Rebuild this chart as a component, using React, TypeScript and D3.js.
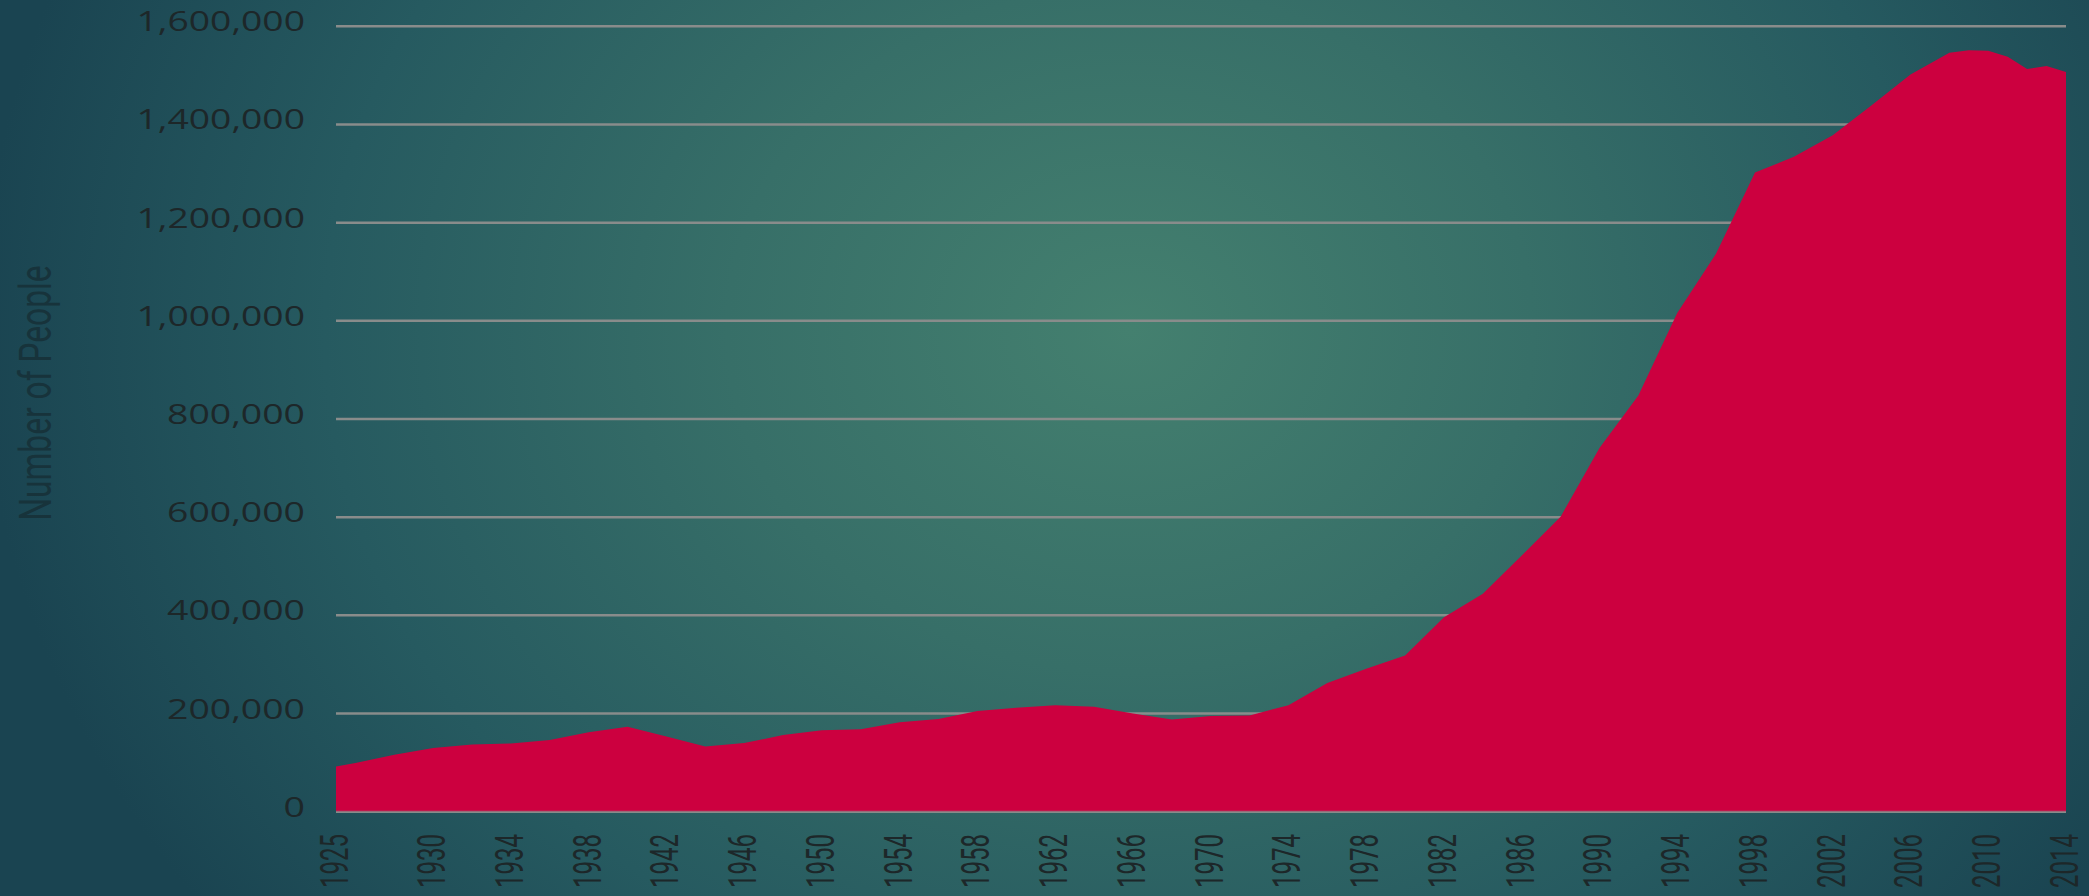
import * as d3 from 'd3';
import { useMemo } from 'react';

// values
const years = [
    1925, 1926, 1928, 1930, 1932, 1934, 1936, 1938, 1940, 1942, 1944, 1946, 1948, 1950,
    1952, 1954, 1956, 1958, 1960, 1962, 1964, 1966, 1968, 1970, 1972, 1974, 1976, 1978,
    1980, 1982, 1984, 1986, 1988, 1990, 1992, 1994, 1996, 1998, 2000, 2002, 2004, 2006,
    2008, 2009, 2010, 2011, 2012, 2013, 2014,
];
const people = [
    92000, 99000, 116000, 130000, 137000, 139000, 146000, 162000, 173000, 153000, 133000,
    140000, 156000, 166000, 168000, 182000, 189000, 205000, 212000, 217000, 214000, 200000,
    188000, 195000, 196000, 217000, 262000, 291000, 318000, 396000, 444000, 522000, 601000,
    741000, 848000, 1016000, 1137000, 1302000, 1334000, 1378000, 1439000, 1502000, 1546000,
    1551000, 1550000, 1538000, 1513000, 1519000, 1507000,
];
const yTicks = [0, 200000, 400000, 600000, 800000, 1000000, 1200000, 1400000, 1600000];
const xTicks = [
    1925, 1930, 1934, 1938, 1942, 1946, 1950, 1954, 1958, 1962, 1966, 1970, 1974, 1978,
    1982, 1986, 1990, 1994, 1998, 2002, 2006, 2010, 2014,
];
const yTitle = 'Number of People';

const W = 2089;
const H = 896;

export default function App() {
    const { x, y, area } = useMemo(() => {
        const x = d3.scaleLinear().domain([1925, 2014]).range([336, 2066]);
        const y = d3.scaleLinear().domain([0, 1600000]).range([811.7, 26.3]);
        const area = d3
            .area<number>()
            .x((_, i) => x(years[i]))
            .y0(y(0))
            .y1((d) => y(d))
            .curve(d3.curveLinear);
        return { x, y, area };
    }, []);

    const fmt = d3.format(',');
    const labelWidth = (s: string) => {
        const digits = s.replace(/,/g, '').length;
        const commas = s.length - digits;
        return digits * 21.5 + commas * 9;
    };

    return (
        <svg
            width={W}
            height={H}
            viewBox={`0 0 ${W} ${H}`}
            style={{ position: 'absolute', left: 0, top: 0, display: 'block' }}
        >
            <defs>
                <radialGradient
                    id="bg"
                    gradientUnits="userSpaceOnUse"
                    cx="1130"
                    cy="330"
                    r="1150"
                    gradientTransform="translate(1130 330) scale(1 0.85) translate(-1130 -330)"
                >
                    <stop offset="0%" stopColor="#44806f" />
                    <stop offset="35%" stopColor="#376f68" />
                    <stop offset="70%" stopColor="#265a60" />
                    <stop offset="100%" stopColor="#1a4451" />
                </radialGradient>
            </defs>
            <rect width={W} height={H} fill="url(#bg)" />

            {/* grid */}
            {yTicks.map((t) => (
                <line
                    key={t}
                    x1={336}
                    x2={2066}
                    y1={y(t)}
                    y2={y(t)}
                    stroke="#898c8b"
                    strokeWidth={2.5}
                />
            ))}

            <path d={area(people) ?? ''} fill="#cc003f" />
            <line x1={336} x2={2066} y1={y(0)} y2={y(0)} stroke="#898c8b" strokeWidth={2} opacity={0.7} />

            {/* y labels */}
            {yTicks.map((t) => {
                const s = fmt(t);
                return (
                    <text
                        key={t}
                        x={305}
                        y={y(t) + 5}
                        textAnchor="end"
                        fontFamily="'Open Sans', sans-serif"
                        fontSize={28}
                        fill="#1d2729"
                        textLength={labelWidth(s)}
                        lengthAdjust="spacingAndGlyphs"
                    >
                        {s}
                    </text>
                );
            })}

            {/* x labels */}
            {xTicks.map((t) => (
                <text
                    key={t}
                    transform={`translate(${x(t) + 12},834) rotate(-90)`}
                    textAnchor="end"
                    fontFamily="Roboto, sans-serif"
                    fontSize={38}
                    fill="#1d2729"
                    textLength={54}
                    lengthAdjust="spacingAndGlyphs"
                >
                    {t}
                </text>
            ))}

            <text
                transform="translate(51,393) rotate(-90)"
                textAnchor="middle"
                fontFamily="Roboto, sans-serif"
                fontWeight={400}
                fontSize={45}
                fill="#17333b"
                textLength={255}
                lengthAdjust="spacingAndGlyphs"
            >
                {yTitle}
            </text>
        </svg>
    );
}
